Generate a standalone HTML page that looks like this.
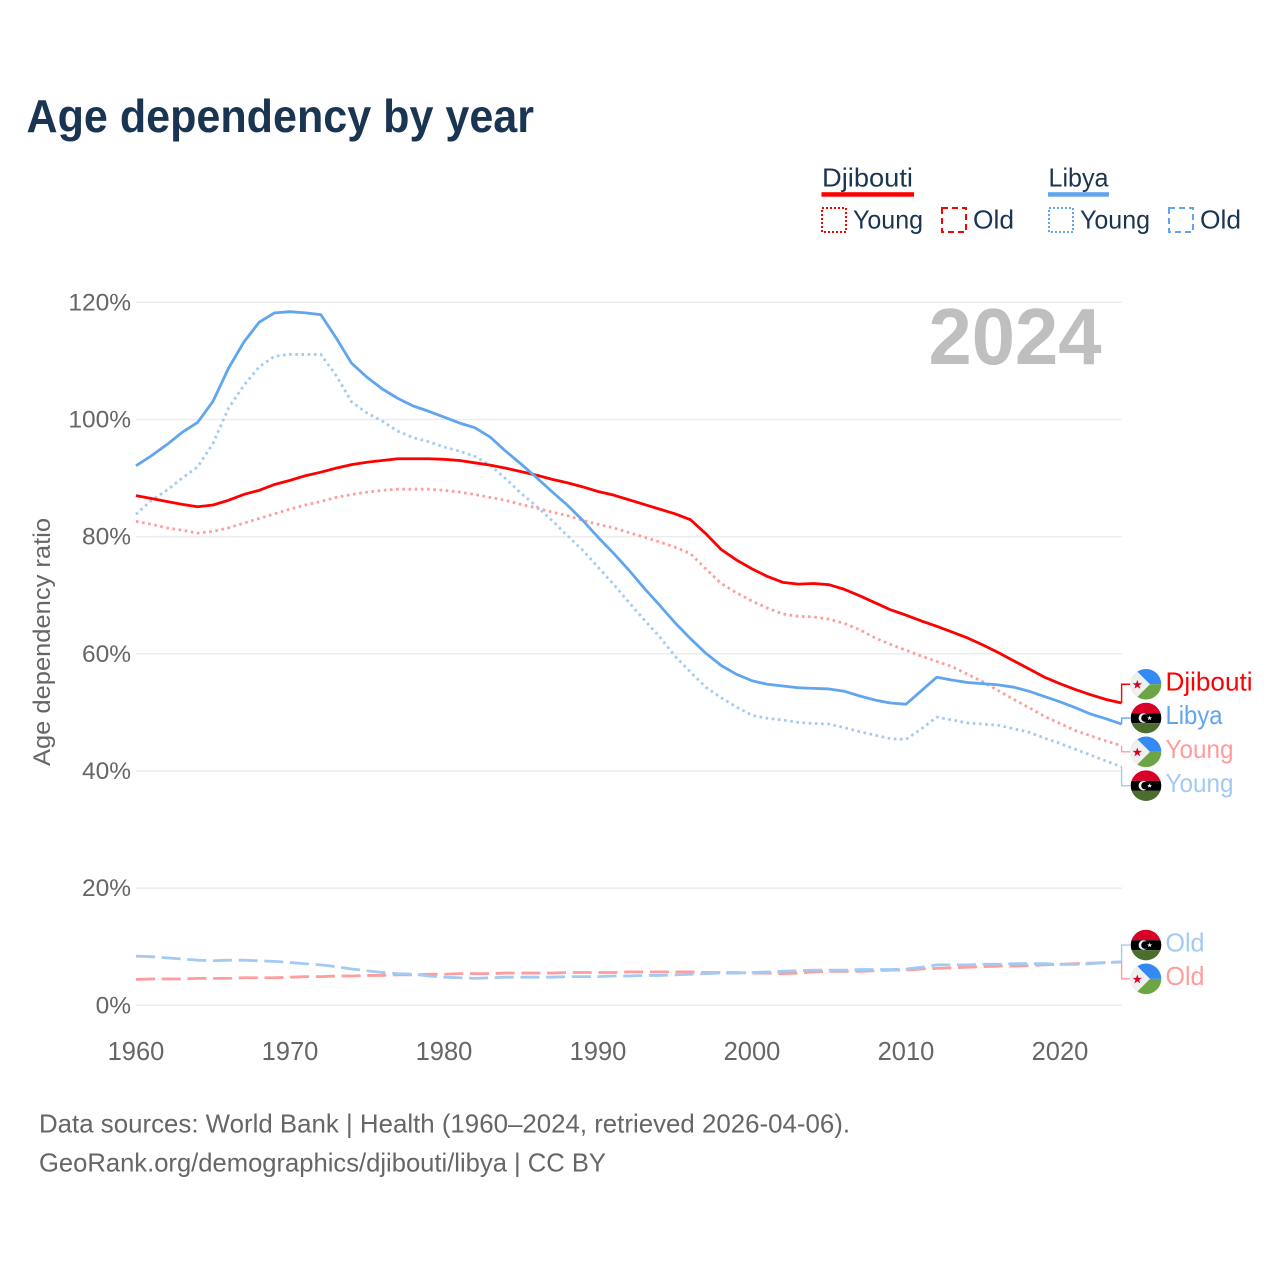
<!DOCTYPE html>
<html lang="en">
<head>
<meta charset="utf-8">
<title>Age dependency by year</title>
<style>
html,body{margin:0;padding:0;background:#fff;width:1280px;height:1280px;overflow:hidden}
svg{display:block}
text{font-family:"Liberation Sans",sans-serif}
</style>
</head>
<body>
<svg id="chart" xmlns="http://www.w3.org/2000/svg" width="1280" height="1280" viewBox="0 0 1280 1280">
  <defs>
    <clipPath id="flag-clip"><circle cx="0" cy="0" r="15.3"></circle></clipPath>
    <g id="flag-djibouti" clip-path="url(#flag-clip)">
      <rect x="-16" y="-16" width="32" height="16" fill="#338af3"></rect>
      <rect x="-16" y="0" width="32" height="16" fill="#6da544"></rect>
      <polygon points="-16,-16 -12,-16 4,0 -12,16 -16,16" fill="#f0f0f0"></polygon>
      <polygon points="-8.7,-4.4 -7.5,-1 -4,-1 -6.8,1.1 -5.8,4.5 -8.7,2.4 -11.6,4.5 -10.6,1.1 -13.4,-1 -9.9,-1" fill="#d80027"></polygon>
    </g>
    <g id="flag-libya" clip-path="url(#flag-clip)">
      <rect x="-16" y="-16" width="32" height="11.2" fill="#d80027"></rect>
      <rect x="-16" y="-4.8" width="32" height="10" fill="#000"></rect>
      <rect x="-16" y="5.2" width="32" height="11" fill="#496e2d"></rect>
      <circle cx="-2.6" cy="0" r="4.8" fill="#f0f0f0"></circle>
      <circle cx="-1" cy="0" r="3.8" fill="#000"></circle>
      <polygon points="3.6,-2.4 4.3,-0.7 6.1,-0.7 4.7,0.4 5.2,2.1 3.6,1.1 2,2.1 2.5,0.4 1.1,-0.7 2.9,-0.7" fill="#f0f0f0"></polygon>
    </g>
  </defs>

  <text x="26.5" y="132" font-size="46" font-weight="700" fill="#1a3552" textLength="507.5" lengthAdjust="spacingAndGlyphs">Age dependency by year</text>

  <g>
    <text x="822" y="186.5" font-size="26" fill="#1a3552" textLength="91" lengthAdjust="spacingAndGlyphs">Djibouti</text>
    <rect x="821.5" y="192.2" width="92.5" height="4.5" fill="#ff0000"></rect>
    <rect x="822" y="208" width="24" height="24" fill="none" stroke="#ff0000" stroke-width="2" stroke-dasharray="2 2"></rect>
    <text x="853" y="228.5" font-size="26" fill="#1a3552" textLength="70" lengthAdjust="spacingAndGlyphs">Young</text>
    <rect x="942" y="208" width="24" height="24" fill="none" stroke="#ff0000" stroke-width="2" stroke-dasharray="6 4"></rect>
    <text x="973" y="228.5" font-size="26" fill="#1a3552" textLength="41" lengthAdjust="spacingAndGlyphs">Old</text>

    <text x="1048.5" y="186.5" font-size="26" fill="#1a3552" textLength="60" lengthAdjust="spacingAndGlyphs">Libya</text>
    <rect x="1048" y="192.2" width="61" height="4.5" fill="#60a5ee"></rect>
    <rect x="1049" y="208" width="24" height="24" fill="none" stroke="#60a5ee" stroke-width="2" stroke-dasharray="2 2"></rect>
    <text x="1080" y="228.5" font-size="26" fill="#1a3552" textLength="70" lengthAdjust="spacingAndGlyphs">Young</text>
    <rect x="1169" y="208" width="24" height="24" fill="none" stroke="#60a5ee" stroke-width="2" stroke-dasharray="6 4"></rect>
    <text x="1200" y="228.5" font-size="26" fill="#1a3552" textLength="41" lengthAdjust="spacingAndGlyphs">Old</text>
  </g>

  <g id="grid"></g>
  <g id="y-ticks"></g>
  <g id="x-ticks"></g>

  <text transform="translate(50,642) rotate(-90)" text-anchor="middle" font-size="24" fill="#666" textLength="248" lengthAdjust="spacingAndGlyphs">Age dependency ratio</text>

  <text x="928.5" y="364" font-size="80" font-weight="700" fill="#bfbfbf" textLength="173" lengthAdjust="spacingAndGlyphs">2024</text>

  <g id="series"></g>
  <g id="labels"></g>

  <g>
    <text x="39" y="1132.5" font-size="26" fill="#666" textLength="811" lengthAdjust="spacingAndGlyphs">Data sources: World Bank | Health (1960–2024, retrieved 2026-04-06).</text>
    <text x="39" y="1171.5" font-size="26" fill="#666" textLength="567" lengthAdjust="spacingAndGlyphs">GeoRank.org/demographics/djibouti/libya | CC BY</text>
  </g>
</svg>

<script>
const firstYear = 1960;
const lastYear = 2024;
const xTickYears = [1960, 1970, 1980, 1990, 2000, 2010, 2020];
const yTickValues = [0, 20, 40, 60, 80, 100, 120];

const djiboutiTotal = [
  87.0,86.5,86.0,85.5,85.1,85.4,86.2,87.2,87.9,88.9,
  89.6,90.4,91.0,91.7,92.3,92.7,93.0,93.3,93.3,93.3,
  93.2,93.0,92.6,92.2,91.7,91.1,90.5,89.8,89.2,88.5,
  87.7,87.1,86.3,85.5,84.7,83.9,82.9,80.5,77.8,76.0,
  74.5,73.2,72.2,71.9,72.0,71.8,71.0,69.9,68.7,67.5,
  66.6,65.6,64.7,63.7,62.7,61.5,60.2,58.8,57.4,56.0,
  54.9,53.9,53.0,52.2,51.6];
const libyaTotal = [
  92.1,93.8,95.7,97.8,99.5,103.1,108.7,113.2,116.6,118.2,
  118.4,118.2,117.9,113.9,109.6,107.2,105.2,103.6,102.3,101.4,
  100.4,99.4,98.6,97.0,94.6,92.4,90.1,87.7,85.4,82.8,
  79.9,77.2,74.3,71.2,68.3,65.3,62.6,60.1,58.0,56.5,
  55.4,54.8,54.5,54.2,54.1,54.0,53.6,52.8,52.1,51.6,
  51.4,53.7,56.0,55.5,55.1,54.9,54.7,54.3,53.6,52.7,
  51.8,50.8,49.7,48.9,48.0];
const djiboutiYoung = [
  82.6,82.1,81.5,81.1,80.6,80.9,81.5,82.3,83.1,83.9,
  84.7,85.4,86.0,86.7,87.2,87.6,87.9,88.1,88.1,88.1,
  87.9,87.6,87.2,86.7,86.2,85.5,84.9,84.2,83.6,82.8,
  82.1,81.5,80.7,79.9,79.1,78.2,77.1,74.5,72.0,70.4,
  69.0,67.8,66.8,66.4,66.3,65.9,65.2,64.1,62.7,61.6,
  60.6,59.6,58.7,57.8,56.5,55.2,53.7,52.2,50.8,49.3,
  48.1,46.9,46.0,45.1,44.3];
const libyaYoung = [
  83.8,86.2,87.9,90.0,91.9,95.9,101.9,105.8,109.0,110.8,
  111.1,111.1,111.1,107.5,103.0,101.1,99.7,98.0,96.9,96.2,
  95.3,94.6,93.7,92.2,89.9,87.4,85.2,82.8,80.2,77.7,
  74.8,71.9,68.8,65.8,62.9,59.6,56.9,54.3,52.5,50.9,
  49.5,49.0,48.7,48.3,48.1,48.0,47.4,46.7,46.1,45.5,
  45.4,47.2,49.2,48.7,48.2,48.0,47.8,47.2,46.6,45.6,
  44.7,43.7,42.7,41.7,40.7];
const djiboutiOld = [
  4.4,4.5,4.5,4.5,4.6,4.6,4.6,4.7,4.7,4.7,
  4.8,4.9,4.9,5.0,5.0,5.1,5.1,5.2,5.2,5.3,
  5.3,5.4,5.4,5.4,5.5,5.5,5.5,5.5,5.6,5.6,
  5.6,5.6,5.7,5.7,5.7,5.7,5.7,5.6,5.6,5.6,
  5.5,5.5,5.4,5.5,5.7,5.8,5.8,5.8,5.9,6.0,
  6.0,6.2,6.3,6.4,6.5,6.6,6.7,6.7,6.8,6.9,
  7.0,7.1,7.2,7.3,7.4];
const libyaOld = [
  8.4,8.3,8.1,7.9,7.7,7.6,7.7,7.7,7.6,7.5,
  7.3,7.1,6.9,6.6,6.2,5.9,5.6,5.4,5.3,5.0,
  4.8,4.7,4.6,4.7,4.8,4.8,4.8,4.8,4.9,4.9,
  4.9,5.0,5.0,5.1,5.1,5.2,5.3,5.4,5.5,5.5,
  5.6,5.7,5.8,5.9,6.0,6.0,6.0,6.1,6.1,6.1,
  6.2,6.5,6.9,6.9,6.9,7.0,7.0,7.1,7.1,7.1,
  7.0,7.0,7.1,7.3,7.4];

const SVGNS = 'http://www.w3.org/2000/svg';
const plot = {left: 136, right: 1121.6, zero: 1005.3, top: 302.3, maxValue: 120};

function xScale(year) {
  return plot.left + (year - firstYear) * (plot.right - plot.left) / (lastYear - firstYear);
}
function yScale(value) {
  return plot.zero - value * (plot.zero - plot.top) / plot.maxValue;
}
function make(parent, tag, attrs) {
  const el = document.createElementNS(SVGNS, tag);
  for (const key in attrs) el.setAttribute(key, attrs[key]);
  parent.appendChild(el);
  return el;
}

const gridGroup = document.getElementById('grid');
const yTickGroup = document.getElementById('y-ticks');
const xTickGroup = document.getElementById('x-ticks');
const seriesGroup = document.getElementById('series');
const labelGroup = document.getElementById('labels');

yTickValues.forEach(function (v) {
  const line = make(gridGroup, 'line', {x1: plot.left, x2: plot.right, y1: yScale(v), y2: yScale(v), stroke: '#ececec', 'stroke-width': 1.5});
  
  
  const tick = make(yTickGroup, 'text', {x: 131, y: yScale(v) + 8, 'text-anchor': 'end', 'font-size': 24.5, fill: '#666'});
  tick.textContent = v + '%';
  
  
});

xTickYears.forEach(function (year) {
  const tick = make(xTickGroup, 'text', {x: xScale(year), y: 1060, 'text-anchor': 'middle', 'font-size': 25.5, fill: '#666'});
  tick.textContent = String(year);
  
  
});

const RED = '#ff0000';
const BLUE = '#60a5ee';
const LIGHT_RED = '#ff9c9c';
const LIGHT_BLUE = '#a3caf3';
const DOTTED = '2.6 3.6';
const DASHED = '19 6.7';

const drawOrder = [
  {id: 'djibouti-old', values: djiboutiOld, color: LIGHT_RED, dash: DASHED},
  {id: 'libya-old', values: libyaOld, color: LIGHT_BLUE, dash: DASHED},
  {id: 'djibouti-young', values: djiboutiYoung, color: LIGHT_RED, dash: DOTTED},
  {id: 'libya-young', values: libyaYoung, color: LIGHT_BLUE, dash: DOTTED},
  {id: 'djibouti-total', values: djiboutiTotal, color: RED, dash: ''},
  {id: 'libya-total', values: libyaTotal, color: BLUE, dash: ''}
];

drawOrder.forEach(function (s) {
  const pts = s.values.map(function (v, i) {
    return xScale(firstYear + i).toFixed(2) + ',' + yScale(v).toFixed(2);
  }).join(' ');
  const attrs = {points: pts, fill: 'none', stroke: s.color, 'stroke-width': 2.8, 'stroke-linejoin': 'round'};
  if (s.dash) attrs['stroke-dasharray'] = s.dash;
  const line = make(seriesGroup, 'polyline', attrs);
  
  
});

const endLabels = [
  {id: 'djibouti-total', text: 'Djibouti', width: 87, values: djiboutiTotal, color: RED, flag: '#flag-djibouti'},
  {id: 'libya-total', text: 'Libya', width: 57, values: libyaTotal, color: BLUE, flag: '#flag-libya'},
  {id: 'djibouti-young', text: 'Young', width: 68, values: djiboutiYoung, color: LIGHT_RED, flag: '#flag-djibouti'},
  {id: 'libya-young', text: 'Young', width: 68, values: libyaYoung, color: LIGHT_BLUE, flag: '#flag-libya'},
  {id: 'libya-old', text: 'Old', width: 39, values: libyaOld, color: LIGHT_BLUE, flag: '#flag-libya'},
  {id: 'djibouti-old', text: 'Old', width: 39, values: djiboutiOld, color: LIGHT_RED, flag: '#flag-djibouti'}
];

/* Spread end labels apart around their line ends so they never overlap. */
const LABEL_GAP = 33.8;
const placed = endLabels.map(function (l) {
  return {label: l, lineY: yScale(l.values[l.values.length - 1])};
}).sort(function (a, b) { return a.lineY - b.lineY; });

let clusters = [];
placed.forEach(function (p) {
  clusters.push({items: [p], center: p.lineY});
  let merging = true;
  while (merging && clusters.length > 1) {
    const b = clusters[clusters.length - 1];
    const a = clusters[clusters.length - 2];
    const aBottom = a.center + (a.items.length - 1) * LABEL_GAP / 2;
    const bTop = b.center - (b.items.length - 1) * LABEL_GAP / 2;
    if (bTop - aBottom < LABEL_GAP) {
      const items = a.items.concat(b.items);
      const mean = items.reduce(function (sum, it) { return sum + it.lineY; }, 0) / items.length;
      clusters.splice(clusters.length - 2, 2, {items: items, center: mean});
    } else {
      merging = false;
    }
  }
});

clusters.forEach(function (c) {
  c.items.forEach(function (p, i) {
    const y = c.center + (i - (c.items.length - 1) / 2) * LABEL_GAP;
    const l = p.label;
    const conn = make(labelGroup, 'polyline', {
      points: plot.right + ',' + p.lineY.toFixed(2) + ' ' + plot.right + ',' + y.toFixed(2) + ' 1130,' + y.toFixed(2),
      fill: 'none', stroke: l.color, 'stroke-width': 1.4
    });
    
    
    const flag = make(labelGroup, 'use', {href: l.flag, x: 1146, y: y.toFixed(2)});
    
    
    const text = make(labelGroup, 'text', {x: 1165.5, y: (y + 6.2).toFixed(2), 'font-size': 26, fill: l.color, textLength: l.width, lengthAdjust: 'spacingAndGlyphs'});
    text.textContent = l.text;
    
    
  });
});
</script>
</body>
</html>
